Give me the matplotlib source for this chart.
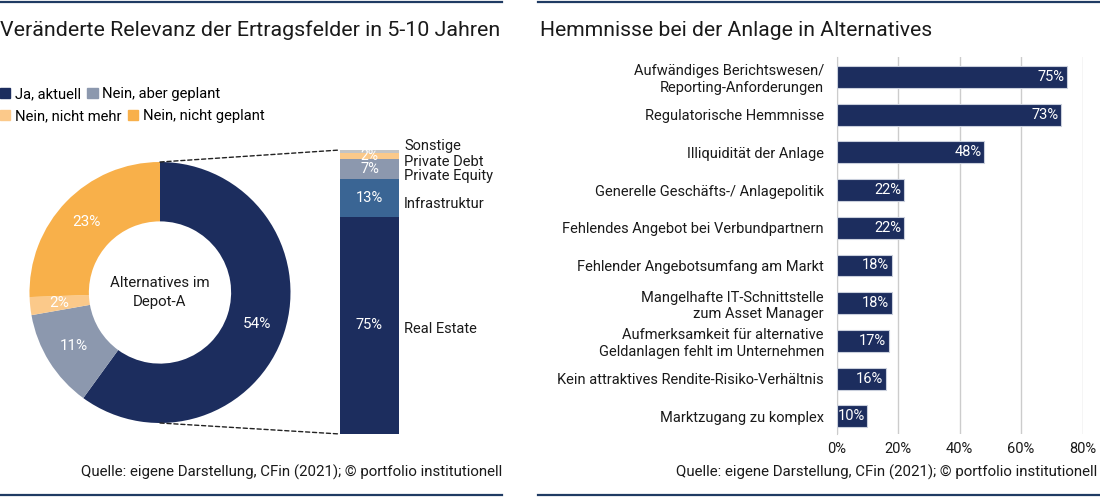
import matplotlib.pyplot as plt
from matplotlib.patches import ConnectionPatch, Patch
from matplotlib.lines import Line2D

plt.rcParams['font.family'] = ['Roboto', 'DejaVu Sans']

# data
donut_labels = ["Ja, aktuell", "Nein, aber geplant", "Nein, nicht mehr", "Nein, nicht geplant"]
donut_vals = [54, 11, 2, 23]
donut_colors = ["#1c2d5e", "#8c98ae", "#fbc98a", "#f8b04a"]

alt_labels = ["Real Estate", "Infrastruktur", "Private Equity", "Private Debt", "Sonstige"]
alt_vals = [75, 13, 7, 2, 1]
alt_show = [True, True, True, True, False]
alt_colors = ["#1c2d5e", "#3a6594", "#8c98ae", "#fbc98a", "#c4c4c4"]

hemm_labels = ["Aufwändiges Berichtswesen/\nReporting-Anforderungen",
               "Regulatorische Hemmnisse",
               "Illiquidität der Anlage",
               "Generelle Geschäfts-/ Anlagepolitik",
               "Fehlendes Angebot bei Verbundpartnern",
               "Fehlender Angebotsumfang am Markt",
               "Mangelhafte IT-Schnittstelle\nzum Asset Manager",
               "Aufmerksamkeit für alternative\nGeldanlagen fehlt im Unternehmen",
               "Kein attraktives Rendite-Risiko-Verhältnis",
               "Marktzugang zu komplex"]
hemm_vals = [75, 73, 48, 22, 22, 18, 18, 17, 16, 10]
x_ticks = [0, 20, 40, 60, 80]

W, H = 1100, 497
navy = "#1c2d5e"
txt = "#1a1a1a"
quelle = "Quelle: eigene Darstellung, CFin (2021); © portfolio institutionell"


def box(x0, y0, x1, y1):
    # pixel box (top-left origin) -> figure fraction rect
    return [x0 / W, 1 - y1 / H, (x1 - x0) / W, (y1 - y0) / H]


fig = plt.figure(figsize=(11, 4.97), dpi=100)

# frame lines top / bottom
for xa, xb in [(0, 502), (538, 1100)]:
    for yy in [1.5, 495]:
        fig.add_artist(Line2D([xa / W, xb / W], [1 - yy / H, 1 - yy / H],
                              color="#1f3b63", lw=1.6))

# titles
fig.text(0 / W, 1 - 30 / H, "Veränderte Relevanz der Ertragsfelder in 5-10 Jahren",
         fontsize=15.4, color=txt, va="center", ha="left")
fig.text(540 / W, 1 - 30 / H, "Hemmnisse bei der Anlage in Alternatives",
         fontsize=15.2, color=txt, va="center", ha="left")

# legends (two rows)
h1 = [Patch(color=c) for c in donut_colors]
leg_kw = dict(ncol=2, loc="center left", frameon=False, fontsize=10.6,
              handlelength=0.7, handleheight=0.7, handletextpad=0.3,
              columnspacing=0.45, borderpad=0, borderaxespad=0)
fig.legend(h1[:2], donut_labels[:2], bbox_to_anchor=(0.0, 1 - 94 / H), **leg_kw)
fig.legend(h1[2:], donut_labels[2:], bbox_to_anchor=(0.0, 1 - 116 / H), **leg_kw)

# donut
ax_pie = fig.add_axes(box(160 - 130.5, 292.5 - 130.5, 160 + 130.5, 292.5 + 130.5))
wedges, texts = ax_pie.pie(donut_vals, colors=donut_colors, startangle=90, counterclock=False,
                           radius=1, wedgeprops=dict(width=0.455, linewidth=0),
                           labels=[f"{v}%" for v in donut_vals], labeldistance=0.78,
                           textprops=dict(color="white", fontsize=11, ha="center", va="center"))
ax_pie.set_xlim(-1, 1)
ax_pie.set_ylim(-1, 1)
ax_pie.set_aspect("auto")
ax_pie.axis("off")
ax_pie.text(0, 0, "Alternatives im\nDepot-A", ha="center", va="center",
            fontsize=10.8, color=txt, linespacing=1.5)

# stacked bar
ax_st = fig.add_axes(box(340, 150, 399, 434))
side_shift = {"Sonstige": 5, "Private Debt": -6, "Private Equity": -7,
              "Infrastruktur": -6, "Real Estate": -4}
total = sum(alt_vals)
bottom = 0
for lab, v, c, show in zip(alt_labels, alt_vals, alt_colors, alt_show):
    ax_st.bar(0, v, bottom=bottom, width=1, color=c, linewidth=0)
    mid = bottom + v / 2
    if show:
        ax_st.text(0, mid, f"{v}%", ha="center", va="center", color="white",
                   fontsize=10.5 if v > 3 else 10)
    ax_st.annotate(lab, (0.5, mid), xytext=(5, side_shift[lab]),
                   textcoords="offset pixels", ha="left", va="center",
                   color=txt, fontsize=10.5, annotation_clip=False)
    bottom += v
ax_st.set_xlim(-0.5, 0.5)
ax_st.set_ylim(0, total)
ax_st.axis("off")

for ya, yb in [(1, total), (-1, 0)]:
    con = ConnectionPatch(xyA=(0, ya), coordsA=ax_pie.transData,
                          xyB=(-0.5, yb), coordsB=ax_st.transData,
                          linestyle=(0, (3, 2)), color="#222222", lw=1)
    fig.add_artist(con)

fig.text(502 / W, 1 - 472 / H, quelle, ha="right", va="center", fontsize=10.8, color=txt)

# right bar chart
ax = fig.add_axes(box(836.5, 57, 1082.5, 434))
ypos = list(range(len(hemm_vals)))
ax.barh(ypos, hemm_vals, height=0.58, color=navy, edgecolor="#c9cfdc", linewidth=0.8, zorder=3)
for y, v in zip(ypos, hemm_vals):
    ax.text(v - 0.8, y, f"{v}%", ha="right", va="center", color="white", fontsize=10.5, zorder=4)
ax.set_ylim(9.47, -0.53)
ax.set_xlim(0, 80)
ax.set_yticks(ypos)
ax.set_yticklabels(hemm_labels, fontsize=10.5, color=txt)
ax.set_xticks(x_ticks)
ax.set_xticklabels([f"{t}%" for t in x_ticks], fontsize=10.5, color=txt)
ax.tick_params(length=0, pad=9)
ax.tick_params(axis="x", pad=6)
ax.grid(axis="x", color="#cccccc", lw=1, zorder=0)
for s in ["top", "right", "bottom"]:
    ax.spines[s].set_visible(False)
ax.spines["left"].set_color("#cccccc")
ax.set_axisbelow(True)

fig.text(1097 / W, 1 - 472 / H, quelle, ha="right", va="center", fontsize=10.8, color=txt)

fig.savefig("out.png", dpi=100)
